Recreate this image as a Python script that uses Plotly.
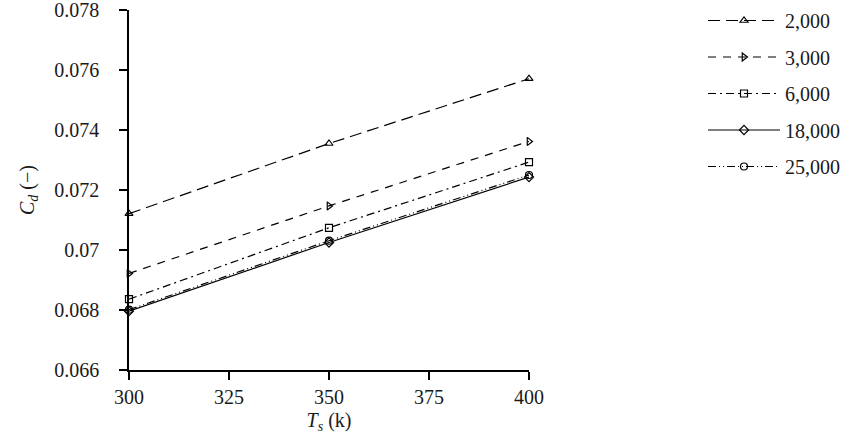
import plotly.graph_objects as go

ts = [300, 350, 400]
series_names = ["2,000", "3,000", "6,000", "18,000", "25,000"]
cd_2000 = [0.07121, 0.07355, 0.07571]
cd_3000 = [0.06922, 0.07147, 0.07362]
cd_6000 = [0.06836, 0.07074, 0.07293]
cd_18000 = [0.06796, 0.07025, 0.07243]
cd_25000 = [0.06801, 0.07031, 0.07250]

values = [cd_2000, cd_3000, cd_6000, cd_18000, cd_25000]
dashes = ["12px,6px", "8px,7px", "8px,4px,2px,4px", "solid", "8px,3px,1px,3px,1px,3px"]
symbols = ["triangle-up-open", "triangle-right-open", "square-open", "diamond-open", "circle-open"]

fig = go.Figure()
for i, (name, vals) in enumerate(zip(series_names, values)):
    fig.add_trace(go.Scatter(
        x=ts, y=vals, name=name, mode="lines+markers",
        line=dict(color="black", width=1.2, dash=dashes[i]),
        marker=dict(symbol=symbols[i], size=7, color="black", line=dict(width=1.2, color="black")),
        cliponaxis=False, legendgroup=f"g{i}",
    ))

font_family = "Liberation Serif, Times New Roman, serif"
fig.update_layout(
    width=850, height=441,
    margin=dict(l=129, r=321, t=10, b=71, autoexpand=False),
    paper_bgcolor="white", plot_bgcolor="white",
    font=dict(family=font_family, size=20, color="#1a1a1a"),
    showlegend=True,
    legend=dict(x=1.435, y=1.025, xanchor="left", yanchor="top",
                font=dict(size=20, family=font_family), itemwidth=72,
                tracegroupgap=7.5, bgcolor="rgba(0,0,0,0)"),
    xaxis=dict(range=[300, 400], tickvals=[300, 325, 350, 375, 400],
               showline=True, linecolor="black", linewidth=1.5,
               ticks="outside", ticklen=8, tickcolor="black", tickwidth=1.5,
               ticklabeloverflow="allow",
               showgrid=False, zeroline=False, automargin=False,
               title=dict(text="<i>T</i><sub><i>s</i></sub> (k)", standoff=6, font=dict(size=20))),
    yaxis=dict(range=[0.066, 0.078], dtick=0.002, tick0=0.066,
               showline=True, linecolor="black", linewidth=1.5,
               ticks="outside", ticklen=8, tickcolor="black", tickwidth=1.5,
               ticklabelstandoff=16, ticklabeloverflow="allow",
               showgrid=False, zeroline=False, automargin=False,
               title=dict(text="<i>C</i><sub><i>d</i></sub> (−)", standoff=14, font=dict(size=20))),
)

fig.write_html("out.html", config={"displayModeBar": False},
               post_script="document.body.style.margin='0px';")
